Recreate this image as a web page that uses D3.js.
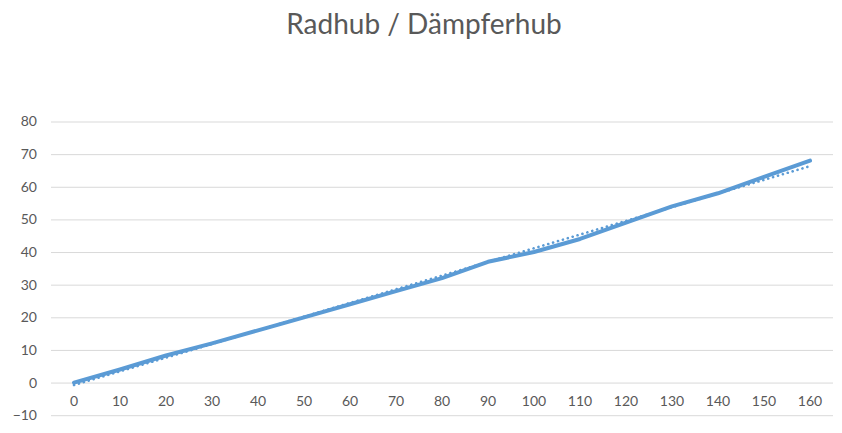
<!DOCTYPE html>
<html><head><meta charset="utf-8">
<script src="https://cdn.jsdelivr.net/npm/d3@7"></script>
<style>body{margin:0;background:#fff}svg{display:block}text{font-family:Lato,"Open Sans",sans-serif}</style>
</head><body>
<svg id="c" width="842" height="433"></svg>
<script>
const title = "Radhub / Dämpferhub";
const categories = [0,10,20,30,40,50,60,70,80,90,100,110,120,130,140,150,160];
const values = [0,4,8.3,12,16,20,24,28,32,37,40,44,49,54,58,63,68];
const yTicks = [-10,0,10,20,30,40,50,60,70,80];

const svg = d3.select("#c");
const x = d3.scaleBand().domain(categories).range([51, 833]);
const cx = c => x(c) + x.bandwidth()/2;
const y = d3.scaleLinear().domain([-10, 80]).range([415.2, 121.5]);

svg.append("text").attr("x", 424).attr("y", 34).attr("text-anchor","middle")
  .attr("font-size", 28).attr("fill", "#595959").text(title);

// gridlines
const yAxis = d3.axisLeft(y).tickValues(yTicks).tickSize(-(833-51)).tickPadding(14);
const gy = svg.append("g").attr("transform","translate(51,0)").call(yAxis);
gy.select(".domain").remove();
gy.selectAll(".tick line").attr("stroke","#d9d9d9").attr("stroke-width",1);
gy.selectAll(".tick text").attr("fill","#595959").attr("font-size",14);

// x axis labels
const xAxis = d3.axisBottom(x).tickSize(0).tickPadding(13);
const gx = svg.append("g").attr("transform",`translate(0,${y(0)})`).call(xAxis);
gx.select(".domain").remove();
gx.selectAll(".tick text").attr("fill","#595959").attr("font-size",14);

// trendline (linear regression on data)
const n = categories.length;
const mx = d3.mean(categories), my = d3.mean(values);
const slope = d3.sum(categories, (c,i)=>(c-mx)*(values[i]-my)) / d3.sum(categories, c=>(c-mx)*(c-mx));
const icpt = my - slope*mx;
const first = categories[0], last = categories[n-1];
svg.append("line")
  .attr("x1", cx(first)).attr("y1", y(icpt + slope*first))
  .attr("x2", cx(last)).attr("y2", y(icpt + slope*last))
  .attr("stroke","#5B9BD5").attr("stroke-width",2.6)
  .attr("stroke-dasharray","0.1,5").attr("stroke-linecap","round");

// main line
const line = d3.line().x((d,i)=>cx(categories[i])).y(d=>y(d));
svg.append("path").datum(values).attr("d", line)
  .attr("fill","none").attr("stroke","#5B9BD5").attr("stroke-width",4)
  .attr("stroke-linejoin","round").attr("stroke-linecap","round");
</script>
</body></html>
